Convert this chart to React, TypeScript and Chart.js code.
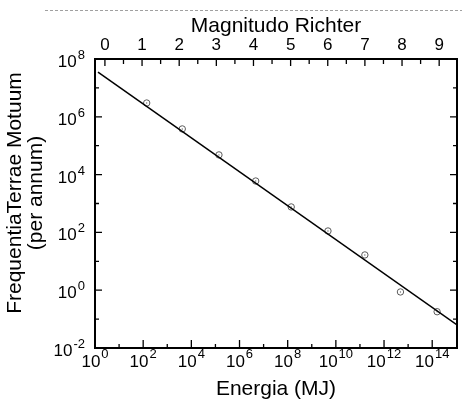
import React, { useEffect, useRef } from 'react';
import { Chart, registerables } from 'chart.js';

Chart.register(...registerables);

const FONT = "'Liberation Sans', Arial, Helvetica, sans-serif";

// Tick labels
const richterTicks = [0, 1, 2, 3, 4, 5, 6, 7, 8, 9];
const energyTickExponents = [0, 2, 4, 6, 8, 10, 12, 14];
const freqTickExponents = [-2, 0, 2, 4, 6, 8];

// Observed points (energy in MJ, frequency per annum)
const pointEnergy = [1.4e2, 4.2e3, 1.4e5, 4.7e6, 1.4e8, 4.7e9, 1.6e11, 4.8e12, 1.6e14];
const pointFreq = [3.0e6, 3.8e5, 4.8e4, 6.0e3, 7.6e2, 1.12e2, 1.66e1, 0.87, 0.18];

// Fitted line end points
const fitEnergy = [1.33, 1.07e15];
const fitFreq = [3.5e7, 0.063];

// Axis ranges
const energyMin = 1;
const energyMax = 1.07e15;
const freqMin = 0.01;
const freqMax = 1e8;
const richterMin = -0.267;
const richterMax = 9.48;

const xTitle = 'Energia (MJ)';
const x2Title = 'Magnitudo Richter';
const yTitleLines = ['FrequentiaTerrae Motuum', '(per annum)'];

const decorPlugin = {
  id: 'decor',
  afterDraw(chart: any) {
    const { ctx, chartArea: a, scales } = chart;
    const x = scales.x;
    const y = scales.y;
    const x2 = scales.x2;
    ctx.save();

    // dashed line at top of image
    ctx.strokeStyle = '#a0a0a0';
    ctx.lineWidth = 1;
    ctx.setLineDash([3, 2]);
    ctx.beginPath();
    ctx.moveTo(45, 10.5);
    ctx.lineTo(462, 10.5);
    ctx.stroke();
    ctx.setLineDash([]);

    // frame
    ctx.strokeStyle = '#000';
    ctx.lineWidth = 2;
    ctx.beginPath();
    ctx.rect(a.left, a.top, a.right - a.left, a.bottom - a.top);
    ctx.stroke();

    // inward ticks
    ctx.lineWidth = 1.3;
    ctx.beginPath();
    for (let e = 0; e <= 15; e++) {
      const px = x.getPixelForValue(Math.pow(10, e));
      if (px < a.left + 1 || px > a.right - 1) continue;
      const len = e % 2 === 0 ? 8 : 4;
      ctx.moveTo(px, a.bottom);
      ctx.lineTo(px, a.bottom - len);
    }
    for (let e = -2; e <= 8; e++) {
      const py = y.getPixelForValue(Math.pow(10, e));
      if (py < a.top + 1 || py > a.bottom - 1) continue;
      const len = e % 2 === 0 ? 7 : 4;
      ctx.moveTo(a.left, py);
      ctx.lineTo(a.left + len, py);
      ctx.moveTo(a.right, py);
      ctx.lineTo(a.right - len, py);
    }
    for (let m = 0; m <= 10; m += 0.5) {
      const px = x2.getPixelForValue(m);
      if (px < a.left + 1 || px > a.right - 1) continue;
      const len = Number.isInteger(m) ? 7 : 5;
      ctx.moveTo(px, a.top);
      ctx.lineTo(px, a.top + len);
    }
    ctx.stroke();

    // power-of-ten tick labels
    ctx.fillStyle = '#000';
    ctx.textBaseline = 'alphabetic';
    ctx.textAlign = 'left';
    const big = `17px ${FONT}`;
    const small = `13px ${FONT}`;
    for (const e of energyTickExponents) {
      const px = x.getPixelForValue(Math.pow(10, e));
      ctx.font = big;
      const w1 = ctx.measureText('10').width;
      ctx.font = small;
      const w2 = ctx.measureText(String(e)).width;
      const start = px - (w1 + 1 + w2) / 2;
      ctx.font = big;
      ctx.fillText('10', start, a.bottom + 19);
      ctx.font = small;
      ctx.fillText(String(e), start + w1 + 1, a.bottom + 10);
    }
    for (const e of freqTickExponents) {
      const py = y.getPixelForValue(Math.pow(10, e));
      ctx.font = small;
      const w2 = ctx.measureText(String(e)).width;
      ctx.font = big;
      const w1 = ctx.measureText('10').width;
      const right = a.left - 10;
      ctx.fillText('10', right - w2 - 1 - w1, py + 8);
      ctx.font = small;
      ctx.fillText(String(e), right - w2, py);
    }

    // y title (two lines, rotated)
    ctx.font = `21px ${FONT}`;
    ctx.textAlign = 'center';
    ctx.textBaseline = 'middle';
    const cy = 193;
    yTitleLines.forEach((t, i) => {
      ctx.save();
      ctx.translate(15.5 + i * 20.5, cy);
      ctx.rotate(-Math.PI / 2);
      ctx.fillText(t, 0, 0);
      ctx.restore();
    });

    ctx.restore();
  },
};

export default function App() {
  const ref = useRef<HTMLCanvasElement | null>(null);

  useEffect(() => {
    if (!ref.current) return;
    const pts = pointEnergy.map((e, i) => ({ x: e, y: pointFreq[i] }));
    const fit = fitEnergy.map((e, i) => ({ x: e, y: fitFreq[i] }));
    const chart = new Chart(ref.current, {
      type: 'scatter',
      data: {
        datasets: [
          {
            data: fit,
            showLine: true,
            borderColor: '#000',
            borderWidth: 1.5,
            pointRadius: 0,
            xAxisID: 'x',
            yAxisID: 'y',
          },
          {
            data: pts,
            pointStyle: 'circle',
            pointRadius: 3.2,
            pointBorderWidth: 1,
            pointBorderColor: '#5a5a5a',
            pointBackgroundColor: 'rgba(0,0,0,0)',
            xAxisID: 'x',
            yAxisID: 'y',
          },
          {
            data: pts,
            pointStyle: 'circle',
            pointRadius: 0.7,
            pointBorderWidth: 0,
            pointBackgroundColor: '#707070',
            xAxisID: 'x',
            yAxisID: 'y',
          },
        ],
      },
      options: {
        responsive: false,
        animation: false,
        layout: { padding: { left: 0, right: 2, top: 0, bottom: 0 } },
        plugins: { legend: { display: false }, tooltip: { enabled: false } },
        scales: {
          x: {
            type: 'logarithmic',
            position: 'bottom',
            min: energyMin,
            max: energyMax,
            ticks: { display: false },
            grid: { display: false },
            border: { display: false },
            title: {
              display: true,
              text: xTitle,
              color: '#000',
              font: { family: FONT, size: 21 },
              padding: { top: 0, bottom: 3 },
            },
            afterFit: (s: any) => {
              s.height = 57;
            },
          },
          x2: {
            type: 'linear',
            position: 'top',
            min: richterMin,
            max: richterMax,
            ticks: {
              stepSize: 1,
              includeBounds: false,
              autoSkip: false,
              maxRotation: 0,
              padding: -5,
              color: '#000',
              font: { family: FONT, size: 17 },
              callback: (v: any) => {
                const r = Math.round(Number(v));
                return Math.abs(Number(v) - r) < 1e-6 && richterTicks.includes(r) ? String(r) : '';
              },
            },
            grid: { display: false },
            border: { display: false },
            title: {
              display: true,
              text: x2Title,
              color: '#000',
              font: { family: FONT, size: 21 },
              padding: { top: 14, bottom: 0 },
            },
            afterFit: (s: any) => {
              s.height = 59;
            },
          },
          y: {
            type: 'logarithmic',
            position: 'left',
            min: freqMin,
            max: freqMax,
            ticks: { display: false },
            grid: { display: false },
            border: { display: false },
            afterFit: (s: any) => {
              s.width = 95;
            },
          },
        },
      },
      plugins: [decorPlugin],
    } as any);
    return () => chart.destroy();
  }, []);

  return (
    <div style={{ position: 'absolute', left: 0, top: 0, width: 462, height: 405 }}>
      <canvas ref={ref} width={462} height={405} style={{ display: 'block', width: 462, height: 405 }} />
    </div>
  );
}
